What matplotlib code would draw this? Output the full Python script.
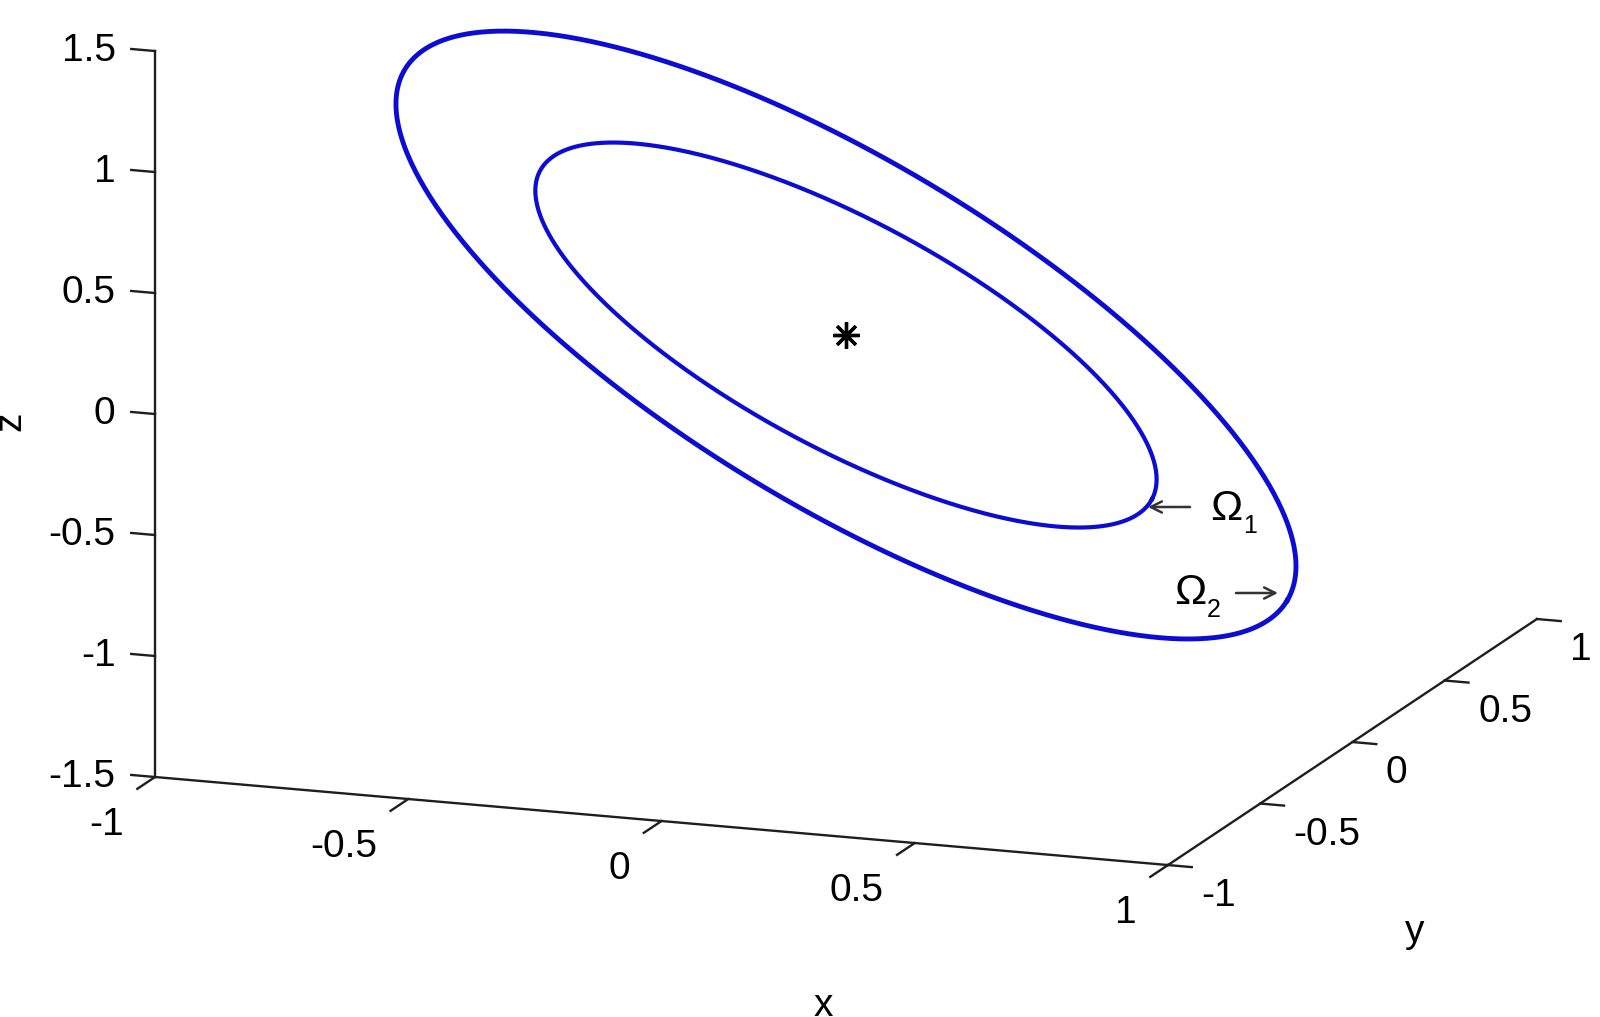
import numpy as np
import matplotlib
matplotlib.use('Agg')
import matplotlib.pyplot as plt
from mpl_toolkits.mplot3d import proj3d

plt.rcParams['font.family'] = ['Liberation Sans', 'DejaVu Sans']

# ticks on the three axes
x_ticks = [-1, -0.5, 0, 0.5, 1]
y_ticks = [-1, -0.5, 0, 0.5, 1]
z_ticks = [-1.5, -1, -0.5, 0, 0.5, 1, 1.5]
x_tick_labels = ['-1', '-0.5', '0', '0.5', '1']
y_tick_labels = ['-1', '-0.5', '0', '0.5', '1']
z_tick_labels = ['-1.5', '-1', '-0.5', '0', '0.5', '1', '1.5']

# the two closed orbits: centre and two semi-axis vectors (x, y, z)
omega1_center = [0.0, 0.0, 0.0]
omega1_u = [0.604, 0.0, -0.569]
omega1_v = [0.0, 0.2925, 0.266]
omega2_center = [0.0, 0.0, 0.0]
omega2_u = [0.871, 0.0, -0.939]
omega2_v = [0.0, 0.482, 0.366]

# equilibrium point
equilibrium = [0.0, 0.0, 0.0]

W, H = 1600, 1017
fig = plt.figure(figsize=(W / 100, H / 100), dpi=100)
S = 1722.0
ax = fig.add_axes([-38.3 / W, -202.3 / H, S / W, S / H], projection='3d')
ax.set_proj_type('ortho')
ax.view_init(elev=13.93, azim=-70.15)
ax.set_box_aspect((1077, 1086.6, 748), zoom=0.96)
ax.set_xlim(-1, 1)
ax.set_ylim(-1, 1)
ax.set_zlim(-1.5, 1.5)
ax.set_axis_off()

axis_color = '#1e1e1e'
blue = '#0c0cd2'
M = ax.get_proj()


def label3d(x, y, z, s, **kw):
    # put a plain 2D annotation on the projected position of a 3D point
    px, py, _ = proj3d.proj_transform(x, y, z, M)
    ax.annotate(s, (px, py), xycoords='data', annotation_clip=False, **kw)


# matlab style axis lines
ax.plot([-1, -1], [-1, -1], [-1.5, 1.5], color=axis_color, lw=1.7)
ax.plot([-1, 1], [-1, -1], [-1.5, -1.5], color=axis_color, lw=1.7)
ax.plot([1, 1], [-1, 1], [-1.5, -1.5], color=axis_color, lw=1.7)

tick_fs = 28
for z, lab in zip(z_ticks, z_tick_labels):
    ax.plot([-1, -1.047], [-1, -1], [z, z], color=axis_color, lw=1.7)
    label3d(-1.078, -1, z - 0.014, lab, ha='right', va='center', fontsize=tick_fs)
for x, lab in zip(x_ticks, x_tick_labels):
    ax.plot([x, x], [-1, -1.096], [-1.5, -1.5], color=axis_color, lw=1.7)
    label3d(x, -1.17, -1.612, lab, ha='right', va='center', fontsize=tick_fs)
for y, lab in zip(y_ticks, y_tick_labels):
    ax.plot([1, 1.047], [y, y], [-1.5, -1.5], color=axis_color, lw=1.7)
    label3d(1.066, y, -1.617, lab, ha='left', va='center', fontsize=tick_fs)

# orbits
t = np.linspace(0, 2 * np.pi, 600)
for c, u, v, lw in [(omega1_center, omega1_u, omega1_v, 3.0),
                    (omega2_center, omega2_u, omega2_v, 3.5)]:
    c, u, v = np.array(c), np.array(u), np.array(v)
    pts = c[:, None] + u[:, None] * np.cos(t) + v[:, None] * np.sin(t)
    ax.plot(pts[0], pts[1], pts[2], color=blue, lw=lw)

ax.plot([equilibrium[0]], [equilibrium[1]], [equilibrium[2]], marker=(8, 2, 0),
        markersize=19, color='black', mew=2.4, linestyle='none')

# axis labels
fig.text(28 / W, 1 - 421 / H, 'z', rotation=90, ha='right', va='center', fontsize=tick_fs)
fig.text(823 / W, 1 - 1016 / H, 'x', ha='center', va='baseline', fontsize=tick_fs)
fig.text(1415 / W, 1 - 942 / H, 'y', ha='center', va='baseline', fontsize=tick_fs)

# orbit labels with arrows
fig.text(1210 / W, 1 - 520 / H, 'Ω', ha='left', va='baseline', fontsize=31)
fig.text(1243 / W, 1 - 533 / H, '1', ha='left', va='baseline', fontsize=18)
fig.text(1174 / W, 1 - 604 / H, 'Ω', ha='left', va='baseline', fontsize=31)
fig.text(1207 / W, 1 - 617 / H, '2', ha='left', va='baseline', fontsize=18)
arrow = dict(arrowstyle='->', color='#333333', lw=1.8, mutation_scale=20,
             shrinkA=0, shrinkB=0)
ax.annotate('', xy=(1148 / W, 1 - 507 / H), xycoords='figure fraction',
            xytext=(1190 / W, 1 - 507 / H), textcoords='figure fraction', arrowprops=arrow)
ax.annotate('', xy=(1278 / W, 1 - 593 / H), xycoords='figure fraction',
            xytext=(1236 / W, 1 - 593 / H), textcoords='figure fraction', arrowprops=arrow)

fig.savefig('out.png', dpi=100)
